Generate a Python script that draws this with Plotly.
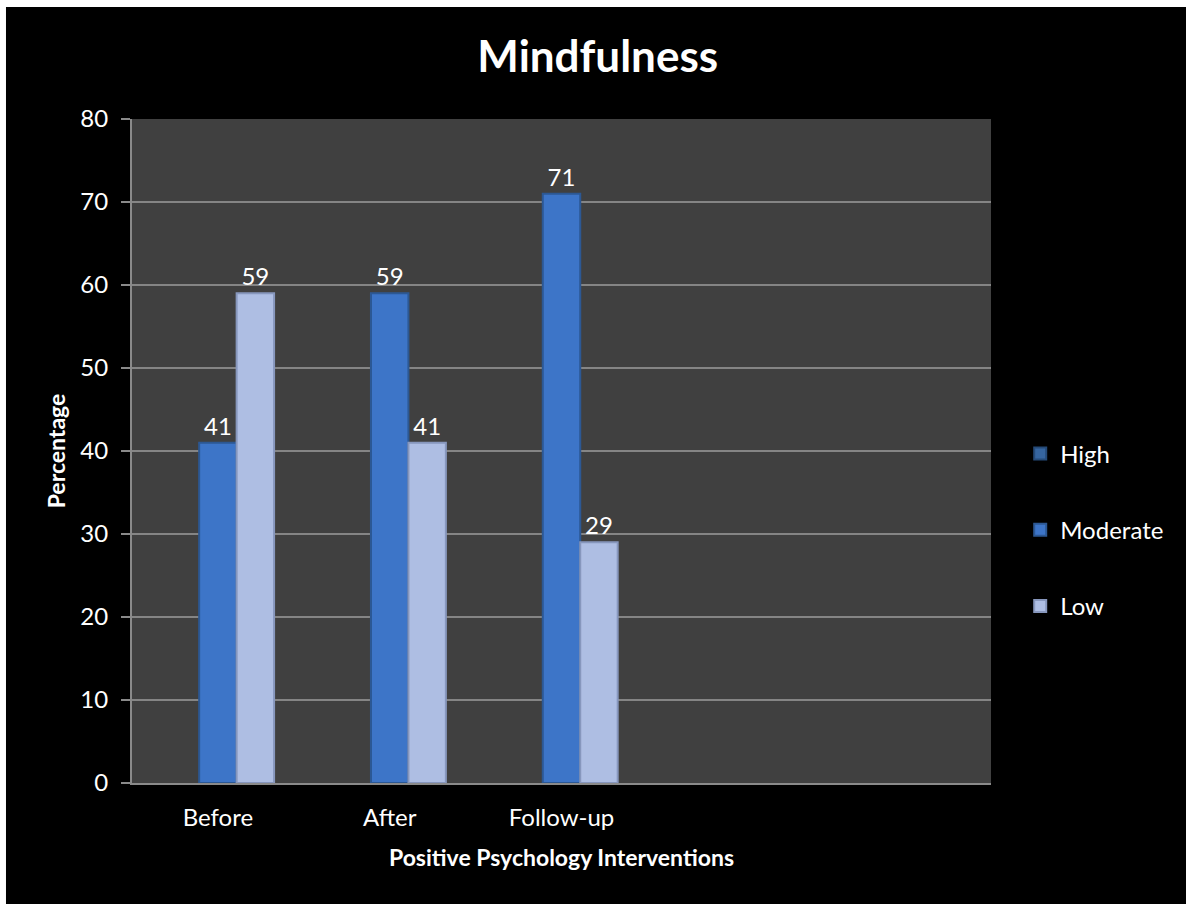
import plotly.graph_objects as go

# Survey results: share of participants per mindfulness level
stages = ["Before", "After", "Follow-up"]
high = [None, None, None]
moderate = [41, 59, 71]
low = [59, 41, 29]

series_names = ["High", "Moderate", "Low"]
series_values = [high, moderate, low]
fill_colors = ["#36659f", "#3d75c8", "#aebee3"]
edge_colors = ["#254a78", "#2c5894", "#8797bd"]

FONT = "Lato, 'Open Sans', sans-serif"

fig = go.Figure()
for i, (name, vals) in enumerate(zip(series_names, series_values)):
    fig.add_trace(go.Bar(
        name=name,
        x=stages,
        y=vals,
        marker=dict(color=fill_colors[i], line=dict(color=edge_colors[i], width=2)),
        text=[str(v) if v is not None else "" for v in vals],
        textposition="outside",
        textfont=dict(color="white", size=24, family=FONT),
        cliponaxis=False,
        legendgroup=name,
    ))

# thin white frame along the top and left edges of the page
frame = [
    dict(type="rect", xref="paper", yref="paper", x0=-0.16, x1=1.23,
         y0=1.1687, y1=1.19, fillcolor="white", line_width=0, layer="below"),
    dict(type="rect", xref="paper", yref="paper", x0=-0.16, x1=-0.1467,
         y0=-0.2, y1=1.19, fillcolor="white", line_width=0, layer="below"),
]

fig.update_layout(
    width=1186,
    height=904,
    margin=dict(l=132, r=195, t=119, b=121),
    paper_bgcolor="black",
    plot_bgcolor="#404040",
    barmode="group",
    bargap=0.346,
    bargroupgap=0,
    shapes=frame,
    title=dict(
        text="<b>Mindfulness</b>",
        x=0.504, xanchor="center", xref="container",
        y=0.937, yref="container", yanchor="middle",
        font=dict(size=44, color="white", family=FONT),
    ),
    font=dict(family=FONT, color="white", size=24),
    legend=dict(
        x=1.034, xanchor="left", y=0.381, yanchor="middle",
        font=dict(size=24, color="white", family=FONT),
        bgcolor="rgba(0,0,0,0)",
        traceorder="grouped",
        tracegroupgap=42,
        itemwidth=30,
    ),
    showlegend=True,
)

fig.update_xaxes(
    type="category",
    range=[-0.5, 4.5],
    showgrid=False,
    showline=True,
    linecolor="#8a8a8a",
    linewidth=2,
    ticks="",
    ticklabelstandoff=12,
    tickfont=dict(size=24, color="white", family=FONT),
    title=dict(text="<b>Positive Psychology Interventions</b>",
               font=dict(size=23, color="white", family=FONT), standoff=20),
)
fig.update_yaxes(
    range=[0, 80],
    dtick=10,
    showgrid=True,
    gridcolor="#858585",
    gridwidth=1.5,
    showline=True,
    linecolor="#8a8a8a",
    linewidth=2,
    ticks="outside",
    ticklen=9,
    tickcolor="#8a8a8a",
    tickwidth=2,
    ticklabelstandoff=8,
    tickfont=dict(size=24, color="white", family=FONT),
    zeroline=False,
    title=dict(text="<b>Percentage</b>",
               font=dict(size=23, color="white", family=FONT), standoff=8),
)

fig.write_html("out.html")
